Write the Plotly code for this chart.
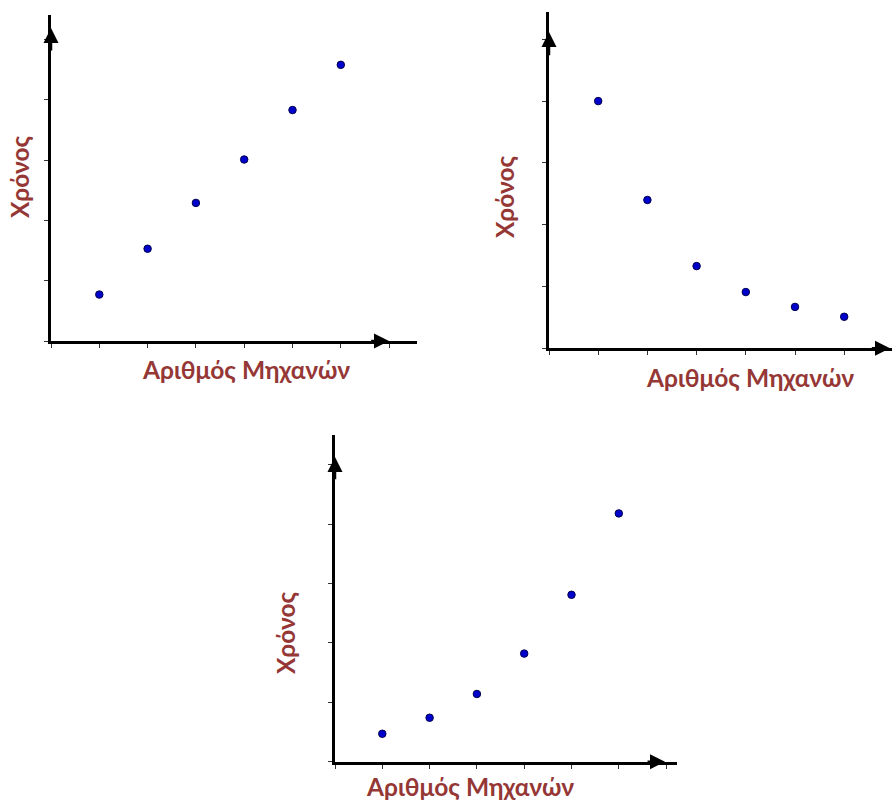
import plotly.graph_objects as go

W, H = 892, 802

# Data (arbitrary units; ticks at integers)
machines = [1, 2, 3, 4, 5, 6]
time_a = [0.77, 1.53, 2.29, 3.01, 3.83, 4.58]   # top-left: linear growth
time_b = [4.00, 2.40, 1.33, 0.91, 0.67, 0.51]   # top-right: decreasing
time_c = [0.47, 0.74, 1.14, 1.82, 2.81, 4.18]   # bottom: accelerating growth

x_label = "Αριθμός Μηχανών"
y_label = "Χρόνος"
x_ticks = [0, 1, 2, 3, 4, 5, 6, 7]
y_ticks = [0, 1, 2, 3, 4, 5]

LABEL_COLOR = "#953735"
DOT_COLOR = "#0000CC"
FONT = "Lato"
FSIZE = 24.5

panels = [
    dict(xl=51, xr=417, yb=341, yt=15, ux=48.3, uy=60.3, ax_tip=389, ay_tip=28, data=time_a,
         ylab=(20, 177), xlab=(246, 369)),
    dict(xl=549, xr=892, yb=348.3, yt=11.7, ux=49.2, uy=61.8, ax_tip=890, ay_tip=32, data=time_b,
         ylab=(505, 197), xlab=(750, 377)),
    dict(xl=335, xr=677, yb=761.7, yt=435, ux=47.3, uy=59.4, ax_tip=665, ay_tip=457, data=time_c,
         ylab=(285, 633), xlab=(470, 786)),
]

fig = go.Figure()
annotations = []
for i, p in enumerate(panels, start=1):
    xa = "x" if i == 1 else f"x{i}"
    ya = "y" if i == 1 else f"y{i}"
    xkey = "xaxis" if i == 1 else f"xaxis{i}"
    ykey = "yaxis" if i == 1 else f"yaxis{i}"
    xmax = (p["xr"] - p["xl"]) / p["ux"]
    ymax = (p["yb"] - p["yt"]) / p["uy"]
    fig.add_trace(go.Scatter(
        x=machines, y=p["data"], mode="markers", xaxis=xa, yaxis=ya,
        marker=dict(size=7.5, color=DOT_COLOR, line=dict(width=1, color="#00004d")),
        showlegend=False, hoverinfo="skip"))
    common = dict(showgrid=False, zeroline=False, showticklabels=False,
                  showline=True, linecolor="black", linewidth=3,
                  ticks="outside", ticklen=4, tickwidth=1, tickcolor="#333333",
                  fixedrange=True)
    fig.update_layout(**{
        xkey: dict(domain=[p["xl"] / W, min(p["xr"] / W, 1.0)], range=[0, xmax],
                   anchor=ya, tickvals=x_ticks, **common),
        ykey: dict(domain=[1 - p["yb"] / H, 1 - p["yt"] / H], range=[0, ymax],
                   anchor=xa, tickvals=y_ticks, **common),
    })
    tipx = (p["ax_tip"] - p["xl"]) / p["ux"]
    tipy = (p["yb"] - p["ay_tip"]) / p["uy"]
    annotations.append(dict(x=tipx, y=0, xref=xa, yref=ya, ax=tipx - 0.4, ay=0,
                            axref=xa, ayref=ya, text="", showarrow=True,
                            arrowhead=2, arrowsize=1.2, arrowwidth=2.5, arrowcolor="black"))
    annotations.append(dict(x=0, y=tipy, xref=xa, yref=ya, ax=0, ay=tipy - 0.4,
                            axref=xa, ayref=ya, text="", showarrow=True,
                            arrowhead=2, arrowsize=1.2, arrowwidth=2.5, arrowcolor="black"))
    annotations.append(dict(x=p["xlab"][0] / W, y=1 - p["xlab"][1] / H, xref="paper", yref="paper",
                            text=f"<b>{x_label}</b>", showarrow=False,
                            font=dict(family=FONT, size=FSIZE, color=LABEL_COLOR),
                            xanchor="center", yanchor="middle"))
    annotations.append(dict(x=p["ylab"][0] / W, y=1 - p["ylab"][1] / H, xref="paper", yref="paper",
                            text=f"<b>{y_label}</b>", showarrow=False, textangle=-90,
                            font=dict(family=FONT, size=FSIZE, color=LABEL_COLOR),
                            xanchor="center", yanchor="middle"))

fig.update_layout(width=W, height=H, margin=dict(l=0, r=0, t=0, b=0),
                  paper_bgcolor="white", plot_bgcolor="white",
                  annotations=annotations, showlegend=False)

fig.write_html("out.html", config={"displayModeBar": False},
               post_script="document.body.style.margin='0px';document.body.style.overflow='hidden';")
